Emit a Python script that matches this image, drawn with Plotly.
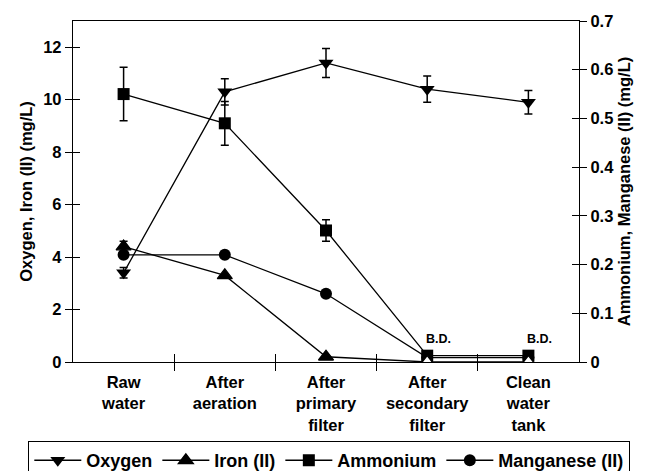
import plotly.graph_objects as go

categories = ["Raw<br>water", "After<br>aeration", "After<br>primary<br>filter",
              "After<br>secondary<br>filter", "Clean<br>water<br>tank"]
xpos = [0, 1, 2, 3, 4]
boundaries = [0.5, 1.5, 2.5, 3.5]

oxygen = [3.4, 10.3, 11.4, 10.4, 9.9]
oxygen_err = [0.2, 0.5, 0.55, 0.5, 0.45]
iron = [4.4, 3.3, 0.2, 0.0, 0.0]
iron_err = [0.2, 0.0, 0.0, 0.0, 0.0]
iron_fill = ["black", "black", "black", "white", "white"]
ammonium = [0.55, 0.49, 0.27, 0.013, 0.013]
ammonium_err = [0.055, 0.045, 0.022, 0.0, 0.0]
manganese = [0.22, 0.22, 0.14, 0.009, 0.009]
bd_points = [3, 4]
bd_label = "B.D."

left_ticks = [0, 2, 4, 6, 8, 10, 12]
right_ticks = [0, 0.1, 0.2, 0.3, 0.4, 0.5, 0.6, 0.7]

FONT = "Liberation Sans, Arial, sans-serif"
LW = 1.3

def err(vals):
    return dict(type="data", array=vals, visible=True, color="black",
                thickness=1.5, width=4)

fig = go.Figure()

fig.add_trace(go.Scatter(
    x=xpos, y=manganese, name="Manganese (II)", yaxis="y", legendrank=4,
    mode="lines+markers", line=dict(color="black", width=LW),
    marker=dict(symbol="circle", size=12, color="black")))
fig.add_trace(go.Scatter(
    x=xpos, y=ammonium, name="Ammonium", yaxis="y", legendrank=3,
    mode="lines+markers", line=dict(color="black", width=LW),
    marker=dict(symbol="square", size=12, color="black"),
    error_y=err(ammonium_err)))
fig.add_trace(go.Scatter(
    x=xpos, y=iron, name="Iron (II)", yaxis="y2", legendrank=2,
    mode="lines+markers", line=dict(color="black", width=LW),
    marker=dict(symbol="triangle-up", size=13, color=iron_fill,
                line=dict(color="black", width=1.3)),
    error_y=err(iron_err)))
fig.add_trace(go.Scatter(
    x=xpos, y=oxygen, name="Oxygen", yaxis="y2", legendrank=1,
    mode="lines+markers", line=dict(color="black", width=LW),
    marker=dict(symbol="triangle-down", size=13, color="black"),
    error_y=err(oxygen_err)))

# empty helper traces so the inner/outer tick overlay axes get drawn
fig.add_trace(go.Scatter(x=[], y=[], xaxis="x2", yaxis="y3",
                         showlegend=False, hoverinfo="skip"))
fig.add_trace(go.Scatter(x=[], y=[], xaxis="x3", yaxis="y4",
                         showlegend=False, hoverinfo="skip"))

for i in bd_points:
    fig.add_annotation(x=xpos[i], y=ammonium[i], xref="x", yref="y",
                       text=bd_label, showarrow=False, xshift=11, yshift=17,
                       font=dict(size=12.5, family=FONT, weight="bold"))

axis_common = dict(showgrid=False, zeroline=False, linecolor="black",
                   linewidth=LW, tickcolor="black", tickwidth=LW)
tick_only = dict(showgrid=False, zeroline=False, tickcolor="black",
                 tickwidth=LW, showticklabels=False, showline=False)

fig.update_layout(
    width=700, height=463,
    paper_bgcolor="white", plot_bgcolor="white",
    font=dict(family=FONT, size=16.5, color="black", weight="bold"),
    margin=dict(l=65, r=129, t=13, b=109, autoexpand=False),
    showlegend=True,
    legend=dict(orientation="h", x=1.1008, y=-0.231, xanchor="right",
                yanchor="top", bordercolor="black", borderwidth=LW,
                font=dict(size=18, family=FONT, weight="bold"),
                bgcolor="white", itemwidth=47),
    xaxis=dict(range=[-0.5, 4.5], tickmode="array", tickvals=xpos,
               ticktext=categories, ticks="", showline=True, mirror=True,
               anchor="y", ticklabelstandoff=5, **axis_common),
    xaxis2=dict(range=[-0.5, 4.5], overlaying="x", anchor="y", side="bottom",
                tickmode="array", tickvals=boundaries, ticks="outside",
                ticklen=8, **tick_only),
    xaxis3=dict(range=[-0.5, 4.5], overlaying="x", anchor="y", side="bottom",
                tickmode="array", tickvals=boundaries, ticks="inside",
                ticklen=8, **tick_only),
    yaxis=dict(range=[0, 0.7], side="right", tickmode="array",
               tickvals=right_ticks,
               ticktext=["0"] + [f"{v:.1f}" for v in right_ticks[1:]],
               ticks="outside", ticklen=7, showline=True,
               title=dict(text="Ammonium, Manganese (II) (mg/L)",
                          font=dict(size=16.5), standoff=5),
               **axis_common),
    yaxis2=dict(range=[0, 13], side="left", overlaying="y", anchor="x",
                tickmode="array", tickvals=left_ticks, ticks="outside",
                ticklen=7, showline=True,
                title=dict(text="Oxygen, Iron (II) (mg/L)",
                           font=dict(size=16.5), standoff=6),
                **axis_common),
    yaxis3=dict(range=[0, 13], side="left", overlaying="y", anchor="x",
                tickmode="array", tickvals=left_ticks, ticks="inside",
                ticklen=7, **tick_only),
    yaxis4=dict(range=[0, 0.7], side="right", overlaying="y", anchor="x",
                tickmode="array", tickvals=right_ticks, ticks="inside",
                ticklen=7, **tick_only),
)

fig.write_html("out.html")
